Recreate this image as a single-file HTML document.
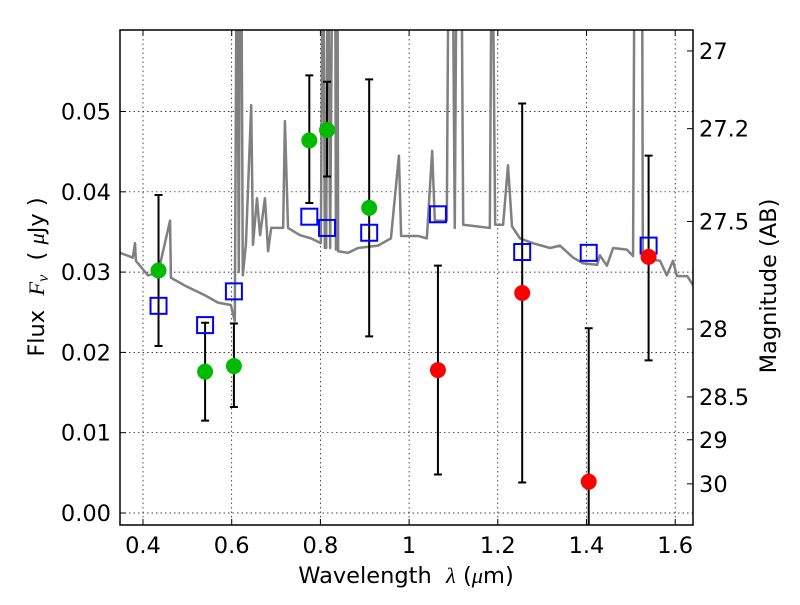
<!DOCTYPE html>
<html><head><meta charset="utf-8"><style>
html,body{margin:0;padding:0;background:#fff;}
svg text{font-family:"DejaVu Sans","Liberation Sans",sans-serif;white-space:pre;}
</style></head><body>
<svg id="chart" width="800" height="600" xmlns="http://www.w3.org/2000/svg">
<defs><clipPath id="clip"><rect x="120" y="30" width="573" height="495"/></clipPath></defs>
<g id="grid"></g>
<g id="spec" clip-path="url(#clip)"></g>
<g id="marks" clip-path="url(#clip)"></g>
<rect x="120" y="30" width="573" height="495" fill="none" stroke="#000" stroke-width="1.5"/>
<g id="axes"></g>
<text x="406" y="583" font-size="22.5" text-anchor="middle">Wavelength&#160;&#160;<tspan font-style="italic" font-family="Liberation Serif">λ</tspan> (<tspan font-style="italic" font-family="Liberation Serif">μ</tspan>m)</text>
<text transform="translate(44,277) rotate(-90)" font-size="22.5" text-anchor="middle">Flux&#160;&#160;<tspan font-style="italic" font-family="Liberation Serif">F</tspan><tspan font-style="italic" font-family="Liberation Serif" font-size="16" dy="4">ν</tspan><tspan dy="-4">&#160;&#160;(&#160;</tspan><tspan font-style="italic" font-family="Liberation Serif">μ</tspan>Jy )</text>
<text transform="translate(776,286) rotate(-90)" font-size="22.5" text-anchor="middle">Magnitude (AB)</text>
</svg>
<script>
const specLam=[0.348,0.377,0.382,0.384,0.411,0.434,0.461,0.463,0.495,0.540,0.569,0.598,0.607,0.612,0.616,0.619,0.621,0.625,0.632,0.644,0.648,0.657,0.664,0.675,0.682,0.689,0.716,0.720,0.727,0.754,0.779,0.801,0.806,0.810,0.813,0.817,0.822,0.828,0.833,0.835,0.838,0.840,0.862,0.885,0.930,0.959,0.977,0.982,1.020,1.040,1.052,1.058,1.085,1.090,1.097,1.103,1.108,1.117,1.122,1.182,1.187,1.194,1.212,1.223,1.232,1.250,1.279,1.318,1.340,1.370,1.392,1.424,1.430,1.446,1.460,1.491,1.505,1.509,1.525,1.527,1.566,1.581,1.595,1.604,1.627,1.640];
const specFlux=[0.0324,0.0318,0.0336,0.0314,0.0296,0.0299,0.0364,0.0293,0.0283,0.0271,0.0262,0.0259,0.0239,0.08,0.03,0.08,0.08,0.0296,0.0334,0.0508,0.0334,0.0392,0.0346,0.0392,0.0326,0.0355,0.0355,0.0488,0.0355,0.0346,0.0342,0.0336,0.08,0.033,0.033,0.08,0.033,0.08,0.08,0.0328,0.08,0.0326,0.0324,0.033,0.0333,0.0342,0.0445,0.0345,0.0345,0.0342,0.0451,0.0364,0.0364,0.08,0.08,0.0355,0.08,0.08,0.0359,0.0355,0.08,0.0359,0.0359,0.0433,0.0357,0.0342,0.0336,0.033,0.0333,0.0318,0.0311,0.0309,0.0321,0.0308,0.033,0.0328,0.032,0.08,0.08,0.0318,0.0314,0.0296,0.0314,0.0295,0.0295,0.0284];
const greenLam=[0.435,0.54,0.605,0.775,0.815,0.91];
const greenFlux=[0.0302,0.0176,0.0183,0.0464,0.0477,0.038];
const greenLo=[0.0208,0.0115,0.0132,0.0386,0.0419,0.022];
const greenHi=[0.0396,0.0237,0.0236,0.0545,0.0537,0.054];
const redLam=[1.065,1.255,1.405,1.54];
const redFlux=[0.0178,0.0274,0.0039,0.0319];
const redLo=[0.0048,0.0038,-0.005,0.019];
const redHi=[0.0308,0.051,0.023,0.0445];
const modelLam=[0.435,0.54,0.605,0.775,0.815,0.91,1.065,1.255,1.405,1.54];
const modelFlux=[0.0258,0.0234,0.0276,0.0369,0.0355,0.0349,0.0372,0.0325,0.0324,0.0333];
const xTicks=[0.4,0.6,0.8,1.0,1.2,1.4,1.6];
const xTickLabels=["0.4","0.6","0.8","1","1.2","1.4","1.6"];
const yTicks=[0,0.01,0.02,0.03,0.04,0.05];
const yTickLabels=["0.00","0.01","0.02","0.03","0.04","0.05"];
const magTicks=[27,27.2,27.5,28,28.5,29,30];
const magTickLabels=["27","27.2","27.5","28","28.5","29","30"];

const NS="http://www.w3.org/2000/svg";
const xs=l=>143+(l-0.4)*443.5;
const ys=f=>513-f*8030;
const magY=m=>ys(Math.pow(10,(23.9-m)/2.5));
function mk(p,t,a){const e=document.createElementNS(NS,t);for(const k in a)e.setAttribute(k,a[k]);p.appendChild(e);return e;}
const grid=document.getElementById('grid'),axes=document.getElementById('axes'),spec=document.getElementById('spec'),marks=document.getElementById('marks');
xTicks.forEach((v,i)=>{const x=xs(v);
 const g=mk(grid,'line',{x1:x,x2:x,y1:30,y2:525,stroke:'#000','stroke-width':0.7,'stroke-dasharray':'1.5,3'});
 
 mk(axes,'line',{x1:x,x2:x,y1:525,y2:519,stroke:'#000'});mk(axes,'line',{x1:x,x2:x,y1:30,y2:36,stroke:'#000'});
 const t=mk(axes,'text',{x:x,y:553,'font-size':22.5,'text-anchor':'middle'});t.textContent=xTickLabels[i];
 });
yTicks.forEach((v,i)=>{const y=ys(v);
 const g=mk(grid,'line',{x1:120,x2:693,y1:y,y2:y,stroke:'#000','stroke-width':0.7,'stroke-dasharray':'1.5,3'});
 
 mk(axes,'line',{x1:120,x2:126,y1:y,y2:y,stroke:'#000'});
 const t=mk(axes,'text',{x:111,y:y+8,'font-size':22.5,'text-anchor':'end'});t.textContent=yTickLabels[i];
 });
magTicks.forEach((m,i)=>{const y=magY(m);
 mk(axes,'line',{x1:687,x2:693,y1:y,y2:y,stroke:'#000'});
 const t=mk(axes,'text',{x:699,y:y+8,'font-size':22.5});t.textContent=magTickLabels[i];
 });
const pl=mk(spec,'polyline',{points:specLam.map((l,i)=>xs(l)+','+ys(specFlux[i])).join(' '),fill:'none',stroke:'#808080','stroke-width':2.5,'stroke-linejoin':'round'});

function err(l,lo,hi){const x=xs(l);
 const e=mk(marks,'path',{d:`M${x},${ys(lo)}V${ys(hi)}M${x-4},${ys(lo)}h8M${x-4},${ys(hi)}h8`,stroke:'#000','stroke-width':2,fill:'none'});
 }
greenLam.forEach((l,i)=>err(l,greenLo[i],greenHi[i]));
redLam.forEach((l,i)=>err(l,redLo[i],redHi[i]));
modelLam.forEach((l,i)=>{const r=mk(marks,'rect',{x:xs(l)-8,y:ys(modelFlux[i])-8,width:16,height:16,fill:'none',stroke:'#0000ff','stroke-width':2});
 });
greenLam.forEach((l,i)=>{const c=mk(marks,'circle',{cx:xs(l),cy:ys(greenFlux[i]),r:8,fill:'#00bb00'});
 });
redLam.forEach((l,i)=>{const c=mk(marks,'circle',{cx:xs(l),cy:ys(redFlux[i]),r:8,fill:'#ff0000'});
 });
</script>
</body></html>
